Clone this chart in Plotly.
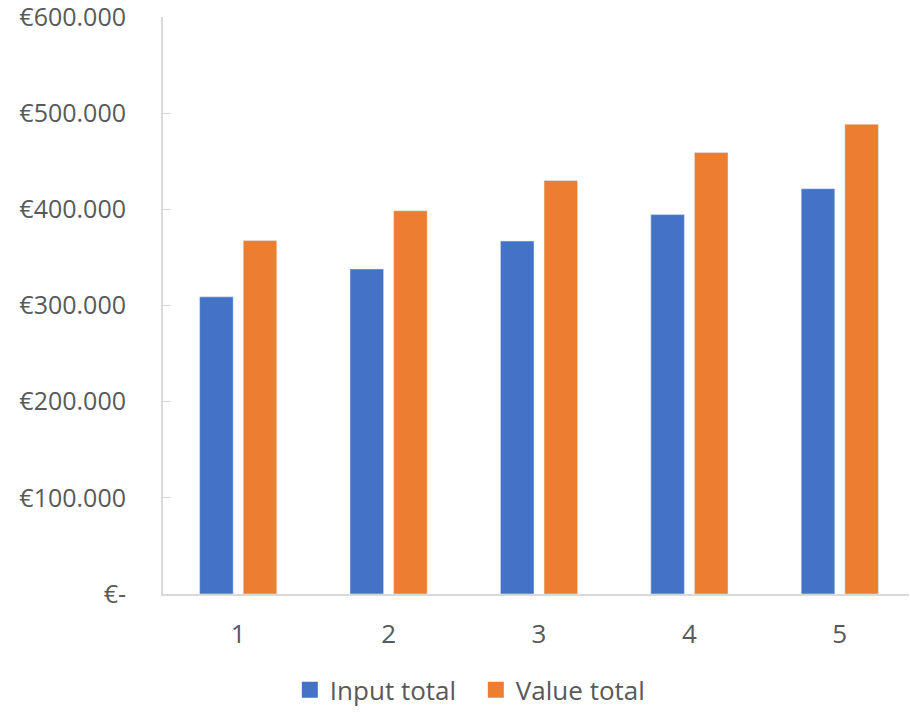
import plotly.graph_objects as go

# Yearly totals per period
periods = ["1", "2", "3", "4", "5"]
input_total = [309000, 338000, 367000, 394500, 421500]
value_total = [367500, 398500, 430000, 459000, 488500]

y_tick_vals = [0, 100000, 200000, 300000, 400000, 500000, 600000]
y_tick_text = ["€-", "€100.000", "€200.000", "€300.000", "€400.000", "€500.000", "€600.000"]

BLUE = "#4472C4"
ORANGE = "#ED7D31"
TEXT = "#595959"
AXIS = "#D9D9D9"
FONT = "Open Sans"

fig = go.Figure()
fig.add_trace(go.Bar(x=periods, y=input_total, name="Input total",
                     marker=dict(color=BLUE), showlegend=False))
fig.add_trace(go.Bar(x=periods, y=value_total, name="Value total",
                     marker=dict(color=ORANGE), showlegend=False))

# Square legend keys
for name, color in [("Input total", BLUE), ("Value total", ORANGE)]:
    fig.add_trace(go.Scatter(x=[None], y=[None], mode="markers", name=name,
                             marker=dict(symbol="square", size=16, color=color)))

fig.update_layout(
    width=910, height=714,
    margin=dict(l=163, r=1, t=17, b=120, autoexpand=False),
    paper_bgcolor="white", plot_bgcolor="white",
    barmode="group", bargap=0.42, bargroupgap=0.23,
    font=dict(family=FONT, size=26, color=TEXT),
    legend=dict(orientation="h", x=0.17, xanchor="left", y=-0.207, yanchor="bottom",
                entrywidth=141, entrywidthmode="pixels",
                font=dict(family=FONT, size=26, color=TEXT), itemclick=False),
)
fig.update_xaxes(
    type="category", range=[-0.5, 4.46], showline=True, linecolor=AXIS, linewidth=2,
    showgrid=False, ticks="", ticklabelstandoff=16,
    tickfont=dict(family=FONT, size=26, color=TEXT),
)
fig.update_yaxes(
    range=[0, 600000], showline=True, linecolor=AXIS, linewidth=2,
    showgrid=False, zeroline=False,
    tickvals=y_tick_vals, ticktext=y_tick_text,
    ticks="inside", ticklen=8, tickcolor=AXIS, tickwidth=1,
    ticklabelstandoff=30, ticklabeloverflow="allow",
    tickfont=dict(family=FONT, size=25, color=TEXT),
)

fig.write_html("out.html")
